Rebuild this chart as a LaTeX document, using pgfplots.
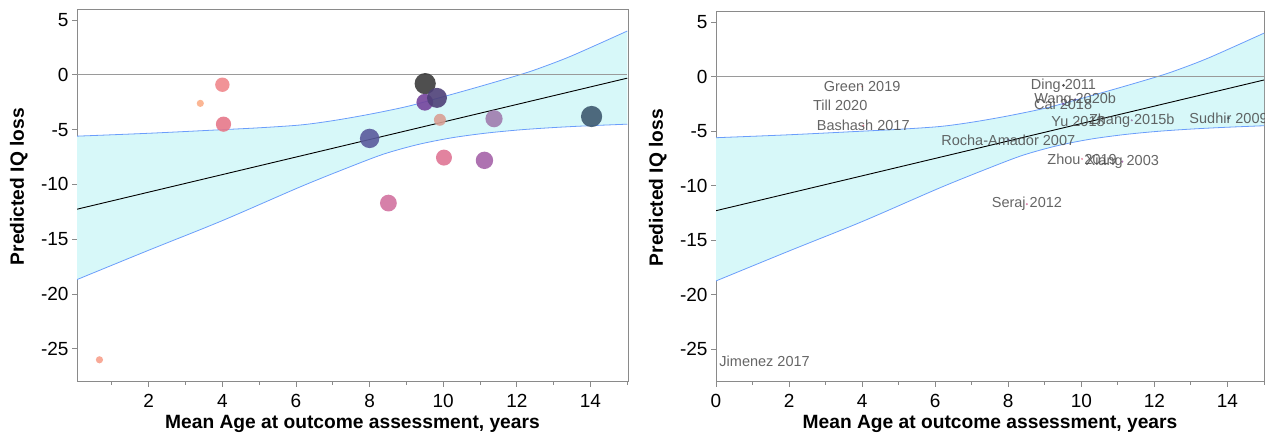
\documentclass[border=0pt]{standalone}
\usepackage{pgfplots}
\pgfplotsset{compat=1.18}
\usepackage{pgfplotstable}
\usepgfplotslibrary{fillbetween}
\usepackage{fontspec}
\setmainfont{Liberation Sans}

\definecolor{bandfill}{HTML}{D7F8F9}
\definecolor{bandline}{HTML}{6B9DFB}
\definecolor{framegray}{HTML}{8A8A8A}
\definecolor{zerogray}{HTML}{9A9A9A}
\definecolor{labgray}{HTML}{4A4A4A}
\definecolor{c1}{HTML}{F7A08C}
\definecolor{c2}{HTML}{FBAE88}
\definecolor{c3}{HTML}{EF878C}
\definecolor{c4}{HTML}{E6788A}
\definecolor{c5}{HTML}{5A5A9C}
\definecolor{c6}{HTML}{D272A0}
\definecolor{c7}{HTML}{3C3C3C}
\definecolor{c8}{HTML}{74449C}
\definecolor{c9}{HTML}{4E4078}
\definecolor{c10}{HTML}{D9A095}
\definecolor{c11}{HTML}{DF7595}
\definecolor{c12}{HTML}{A563A8}
\definecolor{c13}{HTML}{A07CAE}
\definecolor{c14}{HTML}{3E5A70}

\pgfplotstableread{
x y
0 -5.6
2 -5.33
4 -5.0
5 -4.83
6.13 -4.57
7 -4.18
7.96 -3.62
9 -2.9
9.78 -2.2
10.9 -1.15
12.07 0
12.61 0.6
13.5 1.75
15 4.0
}\upperband

\pgfplotstableread{
x y
0 -18.75
2 -16.0
4 -13.3
6.13 -10.2
7.49 -8.36
8.4 -7.21
9.31 -6.36
10.22 -5.75
11.13 -5.33
12.04 -5.03
12.94 -4.82
13.85 -4.66
15 -4.5
}\lowerband

\pgfplotstableread{
x y
0 -12.3
15 -0.3
}\fitline

\pgfplotstableread[col sep=comma]{
lx,ly,label
1.33,-26.1,Jimenez 2017
3.4,-2.6,Till 2020
4.0,-0.9,Green 2019
4.03,-4.5,Bashash 2017
8.0,-5.8,Rocha-Amador 2007
8.51,-11.7,Seraj 2012
9.51,-0.8,Ding 2011
9.5,-2.5,Cai 2018
9.83,-2.1,Wang 2020b
9.91,-4.1,Yu 2018
10.02,-7.55,Zhou 2019
11.12,-7.8,Xiang 2003
11.38,-4.0,Zhang 2015b
14.03,-3.8,Sudhir 2009
}\studylabels

\newcommand{\onept}[4]{\addplot[only marks, mark=*, mark size=#3, color=#4, mark options={line width=0pt, draw=#4, fill=#4, fill opacity=0.9, draw opacity=0}] coordinates {(#1,#2)};}

\newcommand{\allpoints}[1]{%
\onept{0.66}{-26.0}{3.6*#1}{c1}
\onept{3.4}{-2.6}{3.6*#1}{c2}
\onept{4.0}{-0.9}{7.2*#1}{c3}
\onept{4.03}{-4.5}{7.6*#1}{c4}
\onept{8.0}{-5.8}{9.7*#1}{c5}
\onept{8.51}{-11.7}{8.4*#1}{c6}
\onept{9.51}{-0.8}{10.6*#1}{c7}
\onept{9.5}{-2.5}{8.4*#1}{c8}
\onept{9.83}{-2.1}{10.0*#1}{c9}
\onept{9.91}{-4.1}{6.0*#1}{c10}
\onept{10.02}{-7.55}{8.0*#1}{c11}
\onept{11.12}{-7.8}{8.7*#1}{c12}
\onept{11.38}{-4.0}{8.6*#1}{c13}
\onept{14.03}{-3.8}{10.6*#1}{c14}
}

\newcommand{\bandandfit}{%
\addplot[draw=none, smooth, name path=U, forget plot] table {\upperband};
\addplot[draw=none, smooth, name path=L, forget plot] table {\lowerband};
\addplot[bandfill, draw=none] fill between[of=U and L];
\addplot[bandline, smooth, line width=0.8pt] table {\upperband};
\addplot[bandline, smooth, line width=0.8pt] table {\lowerband};
\addplot[zerogray, line width=1pt] coordinates {(0,0) (15,0)};
\addplot[black, line width=0.9pt] table {\fitline};
}

\pgfplotsset{
  myaxis/.style={
    scale only axis,
    anchor=south west,
    ymin=-28,
    axis line style={framegray, line width=1pt},
    tick style={framegray, line width=1pt},
    major tick length=5pt,
    minor tick length=3pt,
    tick align=outside,
    xtick pos=left, ytick pos=left,
    xtick={0,2,...,14},
    xticklabels={0,2,4,6,8,10,12,14},
    minor xtick={1,3,...,15},
    ytick={-25,-20,-15,-10,-5,0,5},
    yticklabels={-25,-20,-15,-10,-5,0,5},
    ticklabel style={font=\fontsize{19}{22}\selectfont},
    xticklabel style={yshift=-4pt},
    xlabel={Mean Age at outcome assessment, years},
    ylabel={Predicted IQ loss},
    every axis x label/.style={at={(axis description cs:0.5,0)}, anchor=center, yshift=-42.5pt, font=\bfseries\fontsize{19.2}{22}\selectfont},
    every axis y label/.style={at={(axis description cs:0,0.5246)}, rotate=90, anchor=center, yshift=58.3pt, font=\bfseries\fontsize{19.2}{22}\selectfont},
    clip=true,
  }
}

\begin{document}
\begin{tikzpicture}
\begin{axis}[myaxis, at={(77pt,53.3pt)}, width=551pt, height=371.7pt,
  xmin=0.05, xmax=15.02, ymax=5.92]
\bandandfit
\allpoints{1}
\end{axis}

\begin{axis}[myaxis, at={(716pt,53.3pt)}, width=548pt, height=370pt,
  xmin=0, xmax=15, ymax=5.97]
\bandandfit
\allpoints{0.14}
\addplot[only marks, mark=none, point meta=explicit symbolic,
  nodes near coords,
  every node near coord/.style={anchor=center, inner sep=0pt, text=labgray, text opacity=0.85, font=\fontsize{14.5}{16}\selectfont}]
  table[x=lx, y=ly, meta=label] {\studylabels};
\end{axis}
\pgfresetboundingbox
\useasboundingbox (0,0) rectangle (1265pt,435pt);
\end{tikzpicture}
\end{document}
